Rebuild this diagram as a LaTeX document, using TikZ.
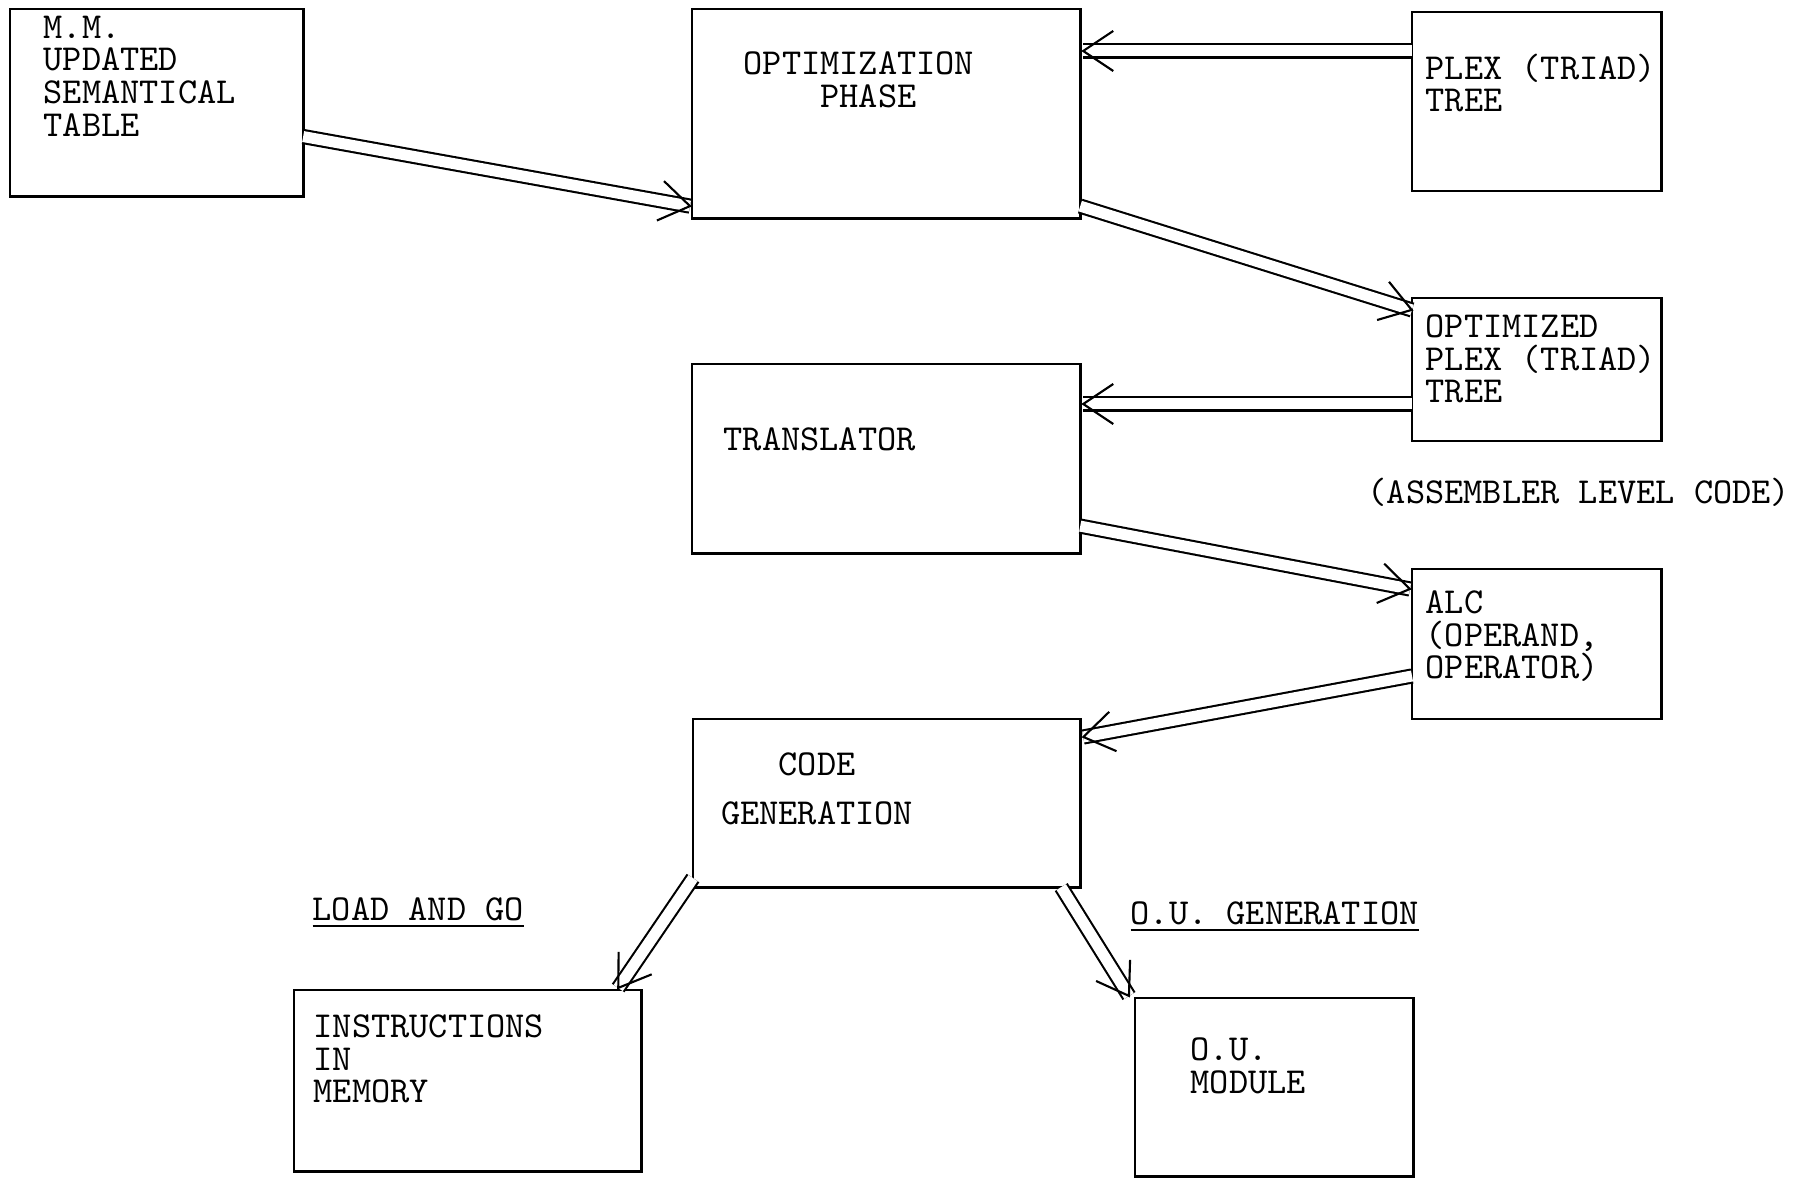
\documentclass[tikz,border=0pt]{standalone}
\usepackage{tikz}
\usetikzlibrary{arrows.meta,calc,positioning,decorations.markings}
\tikzset{
  block/.style    = {draw, line width=0.8pt, inner sep=0pt, outer sep=0pt, anchor=north west},
  boxtext/.style  = {font=\ttfamily\fontsize{10.4}{9.3}\selectfont, align=left,
                     inner sep=0pt, anchor=north west},
  flow/.style     = {double, double distance=1.1mm, line width=0.6pt,
                     postaction={decorate, decoration={markings, mark=at position 1 with
                       {\draw[line width=0.6pt] (-3mm,2mm) -- (0,0) -- (-3mm,-2mm);}}}},
}
\begin{document}
\begin{tikzpicture}[x=0.01cm, y=-0.01cm]
  \useasboundingbox (0,0) rectangle (1812,1180);
  % the boxes
  \node[block, minimum width=2.93cm, minimum height=1.87cm] (mm)    at (10,9)     {};
  \node[block, minimum width=3.88cm, minimum height=2.09cm] (opt)   at (692,9)    {};
  \node[block, minimum width=2.49cm, minimum height=1.79cm] (plex)  at (1412,12)  {};
  \node[block, minimum width=2.49cm, minimum height=1.43cm] (oplex) at (1412,298) {};
  \node[block, minimum width=3.88cm, minimum height=1.89cm] (trans) at (692,364)  {};
  \node[block, minimum width=2.49cm, minimum height=1.50cm] (alc)   at (1412,569) {};
  \node[block, minimum width=3.87cm, minimum height=1.68cm] (cgen)  at (693,719)  {};
  \node[block, minimum width=3.47cm, minimum height=1.81cm] (instr) at (294,990)  {};
  \node[block, minimum width=2.78cm, minimum height=1.78cm] (oumod) at (1135,998) {};

  % texts
  \node[boxtext] (mmtext)    at (43,15)     {M.M.\\UPDATED\\SEMANTICAL\\TABLE};
  \node[boxtext] (opttext)   at (743,51)    {OPTIMIZATION\\\hphantom{OPTI}PHASE};
  \node[boxtext] (plextext)  at (1425,53)   {PLEX (TRIAD)\\TREE};
  \node[boxtext] (oplextext) at (1425,314)  {OPTIMIZED\\PLEX (TRIAD)\\TREE};
  \node[boxtext] (transtext) at (723,427)   {TRANSLATOR};
  \node[boxtext] (alctext)   at (1425,590)  {ALC\\(OPERAND,\\OPERATOR)};
  \node[boxtext, align=center, anchor=north] (cgentext) at (817,752) {CODE\\[4.6pt]GENERATION};
  \node[boxtext] (instrtext) at (313,1014)  {INSTRUCTIONS\\IN\\MEMORY};
  \node[boxtext] (oumodtext) at (1190,1037) {O.U.\\MODULE};
  \node[boxtext] (asmtext)   at (1367,477)  {(ASSEMBLER LEVEL CODE)};
  \node[boxtext] (loadgo)    at (312,897)   {\underline{LOAD AND GO}};
  \node[boxtext] (ougen)     at (1130,901)  {\underline{O.U. GENERATION}};

  % connectors
  \draw[flow] ($(mm.east)+(0,34)$) -- ($(opt.south west)+(-2,-12)$);
  \draw[flow] ($(plex.north west)+(0,39)$) -- ($(opt.north east)+(3,42)$);
  \draw[flow] ($(opt.south east)+(0,-12)$) -- ($(oplex.north west)+(0,12)$);
  \draw[flow] ($(oplex.north west)+(0,106)$) -- ($(trans.north east)+(3,40)$);
  \draw[flow] ($(trans.south east)+(0,-27)$) -- ($(alc.north west)+(-2,20)$);
  \draw[flow] ($(alc.north west)+(0,107)$) -- ($(cgen.north east)+(3,18)$);
  \draw[flow] ($(cgen.south west)+(0,-9)$) -- ($(instr.north east)+(-23,-2)$);
  \draw[flow] ($(cgen.south east)+(-19,0)$) -- ($(oumod.north west)+(-6,-2)$);
\end{tikzpicture}
\end{document}
